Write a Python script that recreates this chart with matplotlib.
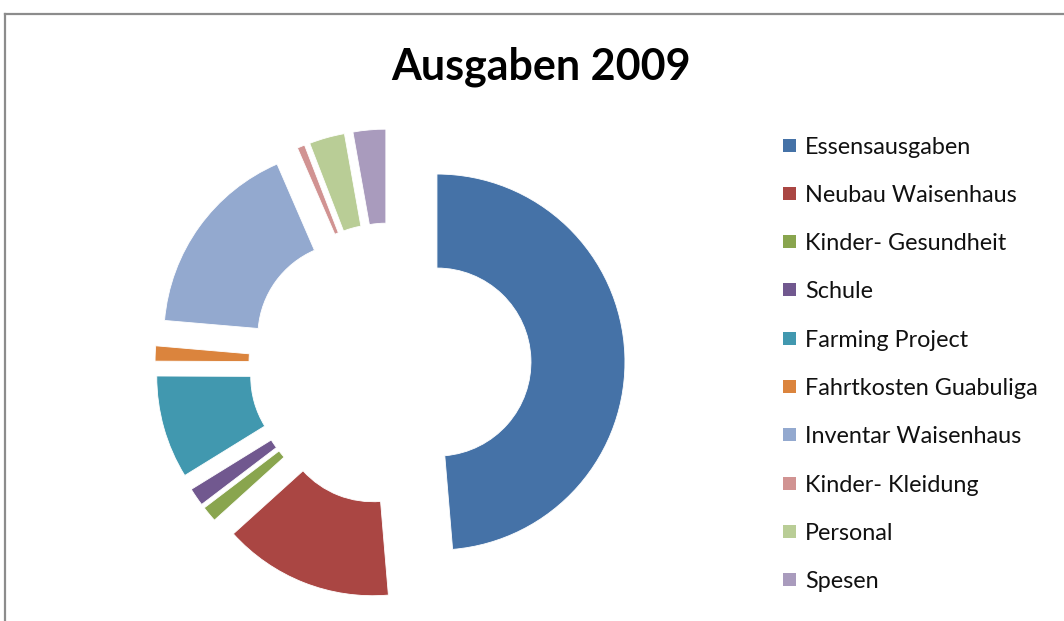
import matplotlib
matplotlib.use("Agg")
import matplotlib.pyplot as plt
from matplotlib.patches import Rectangle
from matplotlib.lines import Line2D

categories = ["Essensausgaben", "Neubau Waisenhaus", "Kinder- Gesundheit", "Schule",
              "Farming Project", "Fahrtkosten Guabuliga", "Inventar Waisenhaus",
              "Kinder- Kleidung", "Personal", "Spesen"]
values = [48.6, 14.6, 1.35, 1.55, 8.85, 1.3, 17.1, 0.65, 3.05, 2.8]
colors = ["#4572A7", "#AA4643", "#89A54E", "#71588F", "#4198AF",
          "#DB843D", "#93A9CF", "#D19392", "#B9CD96", "#A99BBD"]
title = "Ausgaben 2009"

W, H = 1064, 621
fig = plt.figure(figsize=(W / 100, H / 100), dpi=100)
fig.patch.set_facecolor("white")

# pie axes: 1 data unit = 188 px, centre at pixel (390, 364)
R = 188.0
cx, cy = 390.0, 364.0
ax = fig.add_axes([0, 0, 1, 1])
ax.pie(values, colors=colors, startangle=90, counterclock=False,
       explode=[0.25] * len(values), radius=1.0,
       wedgeprops=dict(width=0.5, edgecolor="white", linewidth=0.6))
ax.set_aspect("auto")
ax.set_xlim(-cx / R, (W - cx) / R)
ax.set_ylim(-(H - cy) / R, cy / R)
ax.axis("off")

# title
fig.text(541 / W, 1 - 67 / H, title, ha="center", va="center",
         fontsize=31, fontweight="bold", family="Lato", color="black")

# legend
x_box = 783
y0 = 145
dy = 48.3
box = 13
for i, (lab, col) in enumerate(zip(categories, colors)):
    yc = y0 + i * dy
    fig.patches.append(Rectangle((x_box / W, 1 - (yc + box / 2) / H), box / W, box / H,
                                 transform=fig.transFigure, facecolor=col,
                                 edgecolor="none"))
    fig.text(805 / W, 1 - yc / H, lab, ha="left", va="center_baseline",
             fontsize=16.8, family="Lato", color="#111111")

# chart-area border (top and left visible)
fig.lines.append(Line2D([5 / W, 1.0], [1 - 14 / H, 1 - 14 / H], transform=fig.transFigure,
                        color="#8c8c8c", linewidth=1.6))
fig.lines.append(Line2D([5 / W, 5 / W], [1 - 14 / H, 0.0], transform=fig.transFigure,
                        color="#8c8c8c", linewidth=1.6))

fig.savefig("out.png", dpi=100, facecolor="white")
